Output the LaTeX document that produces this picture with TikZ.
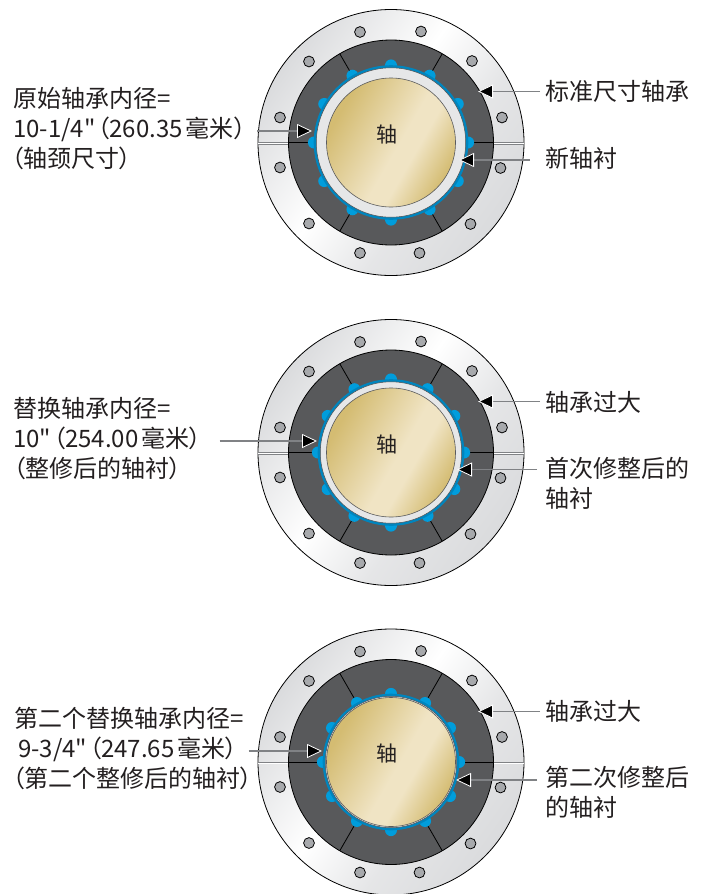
\documentclass[tikz,border=0pt]{standalone}
\usepackage{fontspec}
\setmainfont{Noto Sans CJK SC}[Ligatures=TeXOff,RawFeature=+palt]
\usetikzlibrary{arrows.meta}
\definecolor{flange}{RGB}{218,219,221}
\definecolor{housing}{RGB}{88,89,91}
\definecolor{bolt}{RGB}{167,169,172}
\definecolor{liner}{RGB}{230,231,232}
\definecolor{babbitt}{RGB}{0,133,190}
\definecolor{bump}{RGB}{0,157,220}
\definecolor{leader}{RGB}{128,130,133}
\definecolor{ink}{RGB}{35,31,32}
\definecolor{shaftdark}{RGB}{212,188,114}
\definecolor{shaftlight}{RGB}{240,228,196}
\pgfdeclarehorizontalshading{flangeshade}{100bp}{color(0bp)=(flange); color(25bp)=(flange); color(46bp)=(white); color(60bp)=(flange!70!white); color(75bp)=(flange); color(100bp)=(flange)}
\pgfdeclarehorizontalshading{shaftshade}{100bp}{color(0bp)=(shaftdark); color(27bp)=(shaftdark); color(53bp)=(shaftlight); color(60bp)=(shaftlight); color(75bp)=(shaftdark); color(100bp)=(shaftdark)}
\tikzset{
  lbl/.style={anchor=base west,inner sep=0pt,font=\fontsize{24}{24}\selectfont,text=ink},
  callout/.style={draw=leader,line width=1.3pt,-{Triangle[length=15pt,width=14pt,color=white,fill=black,line width=.8pt]}}
}
\newcommand{\drawbearing}[3]{
  \begin{scope}[shift={(391,#1)}]
    \draw[black,line width=.8pt,shading=flangeshade,shading angle=-35] (0,0) circle (133);
    \foreach \sx/\ex in {-133/-102,102/133}{
      \draw[leader,line width=2.2pt] (\sx,1) -- (\ex,1);
      \draw[white,line width=1pt] (\sx,1) -- (\ex,1);
    }
    \foreach \x/\y in {-31/-110.5,30/-111,-82/-81,81/-81.5,-111/-25,111/-25,-111/25,109.5/25.5,-82/81,79.5/81.5,-31/110.5,28.5/110.5}{
      \draw[black,fill=bolt,line width=.8pt] (\x,\y) circle (5.4);
    }
    \draw[black,fill=housing,line width=.8pt] (0,0) circle (102.5);
    \foreach \a in {0,60,120,180,240,300}{
      \draw[black,line width=.8pt] (\a:#2) -- (\a:102.5);
    }
    \foreach \a in {0,30,...,330}{
      \fill[bump] (\a:#2-.2) circle (6);
    }
    \fill[babbitt] (0,0) circle (#2);
    \draw[leader!60!black,fill=liner,line width=.5pt] (0,0) circle (#2-2.6);
    \draw[leader!70!black,line width=.6pt,shading=shaftshade,shading angle=-30] (0,0) circle (64.5);
    \node[inner sep=0pt,font=\fontsize{21}{24}\selectfont,text=ink] (shaft#3) at (-4,-8) {轴};
  \end{scope}
}
\begin{document}
\begin{tikzpicture}[x=1pt,y=-1pt]
\useasboundingbox (0,0) rectangle (706,894);
\drawbearing{142.5}{77.3}{A}
\drawbearing{452.5}{73.3}{B}
\drawbearing{762}{68.3}{C}
% first bearing
\node[lbl] (origtop) at (13,107) {原始轴承内径=};
\node[lbl] (origbore) at (13,137) {10-1/4"\hspace{2pt}（260.35\hspace{3pt}毫米）};
\node[lbl] (orignote) at (11,167) {（轴颈尺寸）};
\node[lbl] (stdlabel) at (545,100) {标准尺寸轴承};
\node[lbl] (newlabel) at (545,167) {新轴衬};
\coordinate (origtip) at (312,131);
\coordinate (stdtip) at (478,91.5);
\coordinate (newtip) at (459,160);
\draw[callout] (origbore.east |- origtip)++(11,0) -- (origtip);
\draw[callout] (stdlabel.west |- stdtip)++(-5,0) -- (stdtip);
\draw[callout] (newlabel.west |- newtip)++(-15,0) -- (newtip);
% second bearing
\node[lbl] (swaptop) at (13,417) {替换轴承内径=};
\node[lbl] (swapbore) at (13,447) {10"\hspace{2pt}（254.00\hspace{3pt}毫米）};
\node[lbl] (swapnote) at (13,477) {（整修后的轴衬）};
\node[lbl] (bigB) at (545,411) {轴承过大};
\node[lbl] (firstup) at (545,477) {首次修整后的};
\node[lbl] (firstdn) at (545,507) {轴衬};
\coordinate (swaptip) at (317,441);
\coordinate (bigBtip) at (478,401.5);
\coordinate (firsttip) at (457,469.5);
\draw[callout] (swapbore.east |- swaptip)++(18,0) -- (swaptip);
\draw[callout] (bigB.west |- bigBtip)++(-5,0) -- (bigBtip);
\draw[callout] (firstup.west |- firsttip)++(-8,0) -- (firsttip);
% third bearing
\node[lbl] (lasttop) at (14,727) {第二个替换轴承内径=};
\node[lbl] (lastbore) at (18,757) {9-3/4"\hspace{2pt}（247.65\hspace{3pt}毫米）};
\node[lbl] (lastnote) at (12,787) {（第二个整修后的轴衬）};
\node[lbl] (bigC) at (545,720) {轴承过大};
\node[lbl] (secondup) at (545,786) {第二次修整后};
\node[lbl] (seconddn) at (545,816) {的轴衬};
\coordinate (lasttip) at (322,751);
\coordinate (bigCtip) at (478,711.5);
\coordinate (secondtip) at (456,780);
\draw[callout] (lastbore.east |- lasttip)++(11,0) -- (lasttip);
\draw[callout] (bigC.west |- bigCtip)++(-5,0) -- (bigCtip);
\draw[callout] (secondup.west |- secondtip)++(-8,0) -- (secondtip);
\end{tikzpicture}
\end{document}
